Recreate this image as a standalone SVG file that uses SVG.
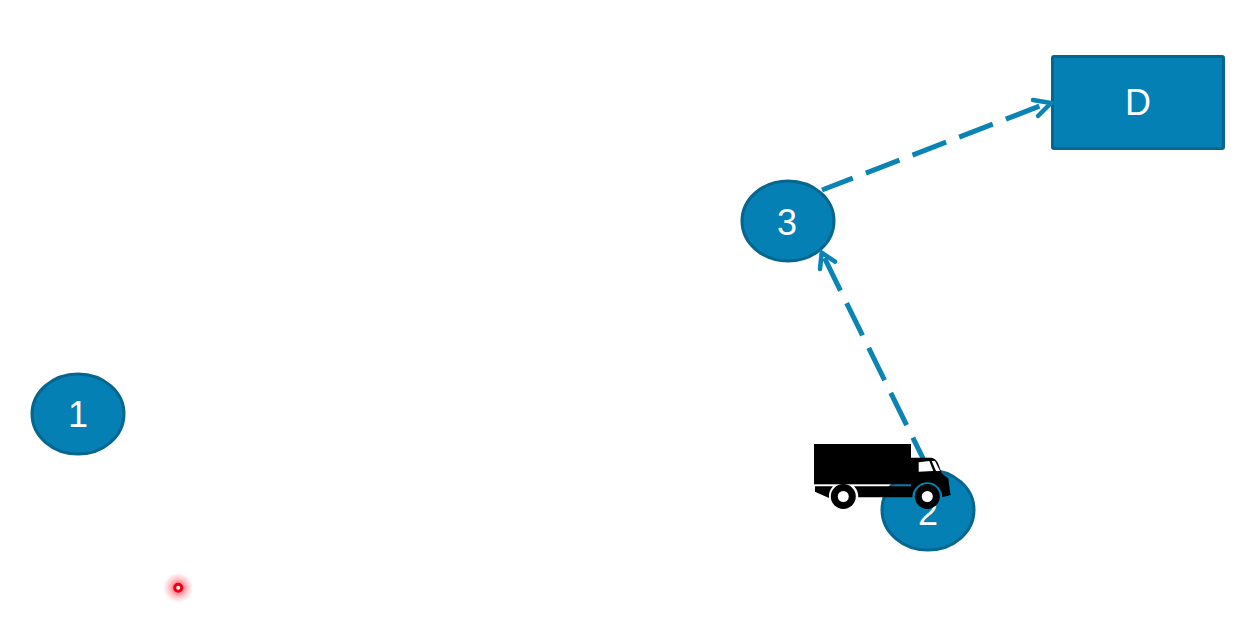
<svg xmlns="http://www.w3.org/2000/svg" width="1252" height="637" viewBox="0 0 1252 637">
<style>
.n{fill:#0480b4;stroke:#05668f;stroke-width:3}
.t{font-family:"Liberation Sans",Arial,sans-serif;font-size:36px;fill:#fff;text-anchor:middle}
.c{fill:none;stroke:#0a84b4;stroke-width:5;stroke-dasharray:36 14}
.h{fill:none;stroke:#0a84b4;stroke-width:4.500;stroke-linecap:round;stroke-linejoin:miter}
</style>
<defs>
<radialGradient id="glow"><stop offset="0.25" stop-color="#ff2030" stop-opacity="0.65"/><stop offset="0.6" stop-color="#ff4050" stop-opacity="0.3"/><stop offset="1" stop-color="#ff4050" stop-opacity="0"/></radialGradient>
</defs>
<rect width="1252" height="637" fill="#fff"/>
<g id="node-1"><ellipse class="n" cx="78" cy="414" rx="46" ry="40"/><text class="t" x="78" y="427">1</text></g>
<g id="node-2"><ellipse class="n" cx="928" cy="510" rx="46" ry="40"/><text class="t" x="928" y="525">2</text></g>
<g id="node-3"><ellipse class="n" cx="788" cy="221" rx="46" ry="40"/><text class="t" x="787" y="235">3</text></g>
<g id="node-D"><rect class="n" x="1052.500" y="56.500" width="171" height="92" rx="1.500"/><text class="t" x="1138" y="115">D</text></g>
<g id="connectors">
<path class="c" stroke-dashoffset="3" d="M822 190L1049 102.500"/>
<path class="h" d="M1033 100L1051 103L1038 116"/>
<path class="c" d="M928.700 470L822 253"/>
<path class="h" d="M820 269L821.700 252.700L835 261.700"/>
</g>
<g id="truck" fill="#000">
<rect x="814" y="444" width="97" height="40.300"/>
<path d="M815 486.300H833A15 15 0 0 0 829 498L815 491.700Z"/>
<path d="M854 486.300H911V457.700H931.700Q936 459 938 463L941.700 473.300L948.300 478.300L950 491.700L950.700 495L942.300 497.300A15 15 0 0 0 912.300 497.300H858.300A15 15 0 0 0 854 486.300Z"/>
<path d="M918.700 462.300L929.300 461L933.300 471L918.700 471.700Z" fill="#fff"/>
<path d="M931.700 461H935L940 471H936Z" fill="#fff"/>
<circle cx="843.300" cy="496.500" r="12.500"/>
<circle cx="927.300" cy="496.500" r="12.500"/>
<circle cx="843.300" cy="496.500" r="5.500" fill="#fff"/>
<circle cx="927.300" cy="496.500" r="5.500" fill="#fff"/>
</g>
<g id="marker">
<circle cx="178.200" cy="587.800" r="15" fill="url(#glow)"/>
<circle cx="178.200" cy="587.800" r="3.500" fill="#fff" stroke="#ee0018" stroke-width="3"/>
</g>
</svg>
